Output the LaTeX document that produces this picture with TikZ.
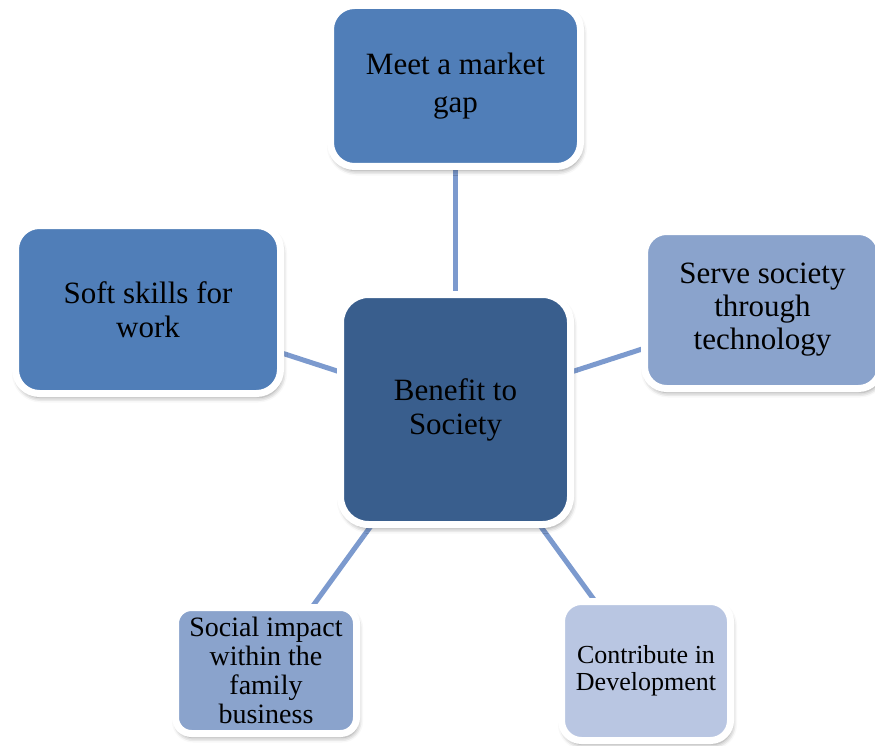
\documentclass[tikz,border=0pt]{standalone}
\usepackage{fontspec}
\setmainfont{Liberation Serif}
\usetikzlibrary{shadows.blur,backgrounds}
\definecolor{cdark}{RGB}{57,94,141}
\definecolor{cmid}{RGB}{80,126,184}
\definecolor{clight}{RGB}{138,163,204}
\definecolor{cpale}{RGB}{185,198,226}
\definecolor{clink}{RGB}{124,154,206}
\begin{document}
\begin{tikzpicture}[x=1pt,y=-1pt,
  box/.style={rectangle, draw=white, line width=7pt, align=center, inner sep=0pt, text=black,
    blur shadow={shadow xshift=1.5pt, shadow yshift=-4pt, shadow blur radius=5pt, shadow opacity=45}},
  link/.style={draw=clink, line width=5pt}]
\useasboundingbox (0,0) rectangle (875,746);
\node[box, fill=cdark, rounded corners=28pt, minimum width=230pt, minimum height=230pt,
  font=\fontsize{31}{34}\selectfont] (c) at (455.5,409.5) {Benefit to\\Society};
\node[box, fill=cmid, rounded corners=24pt, minimum width=250pt, minimum height=161pt,
  font=\fontsize{31}{38}\selectfont] (t) at (455.5,86) {Meet a market\\gap};
\node[box, fill=cmid, rounded corners=24pt, minimum width=265pt, minimum height=168pt,
  font=\fontsize{31}{34}\selectfont] (l) at (148,309.5) {Soft skills for\\work};
\node[box, fill=clight, rounded corners=22pt, minimum width=236pt, minimum height=157pt,
  font=\fontsize{31}{33}\selectfont] (r) at (762.5,310) {Serve society\\through\\technology};
\node[box, fill=clight, rounded corners=16pt, minimum width=181pt, minimum height=126pt,
  font=\fontsize{28}{29}\selectfont] (bl) at (266,670.5) {Social impact\\within the\\family\\business};
\node[box, fill=cpale, rounded corners=20pt, minimum width=169pt, minimum height=139pt,
  font=\fontsize{26}{27}\selectfont] (br) at (646,671) {Contribute in\\Development};
\begin{pgfonlayer}{background}
\draw[link] (c.center) -- (t.center);
\draw[link] (c.center) -- (l.center);
\draw[link] (c.center) -- (r.center);
\draw[link] (c.center) -- (bl.center);
\draw[link] (c.center) -- (br.center);
\end{pgfonlayer}
\end{tikzpicture}
\end{document}
